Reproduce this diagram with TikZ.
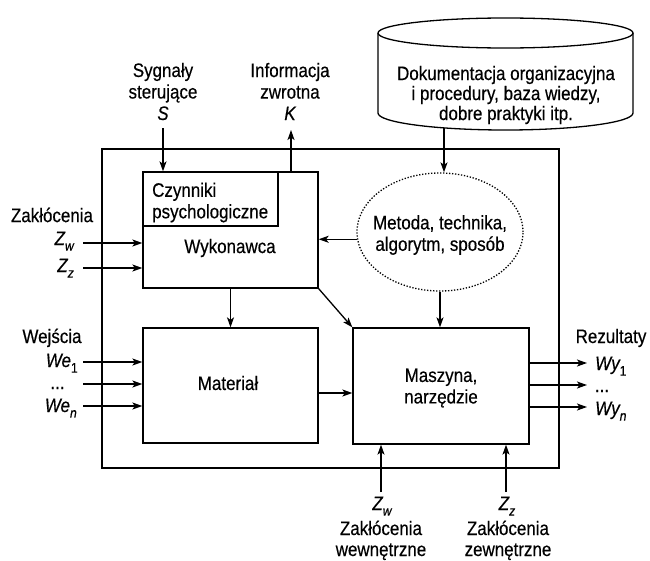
\documentclass[tikz,border=0pt]{standalone}
\usepackage{fontspec}
\setmainfont{Liberation Sans}[FakeStretch=0.87,FakeBold=0.4]
\usetikzlibrary{arrows.meta,shapes.geometric}
% lowered index for the symbols Z, We, Wy
\newcommand{\lowidx}[1]{\raisebox{-0.55ex}{\fontsize{14}{14}\selectfont #1}}
\begin{document}
\begin{tikzpicture}[x=1pt,y=-1pt,
  font=\fontsize{19.5}{21.5}\selectfont,
  every node/.style={inner sep=0pt},
  txt/.style={align=center},
  block/.style={draw, line width=1.3pt, inner sep=0pt},
  link/.style={line width=1.3pt, -{Stealth[length=10pt,width=7pt,inset=2.5pt]}},
  ]
\fill[white] (0,0) rectangle (650,560);
\useasboundingbox (0,0) rectangle (650,560);

% system boundary
\node[block, minimum width=457pt, minimum height=319pt] (frame) at (330.5,308.5) {};

% knowledge base (cylinder)
\draw[line width=1.3pt, fill=white] (378,33) -- (378,113)
  arc[start angle=180, end angle=0, x radius=127.5, y radius=17] -- (633,33);
\draw[line width=1.3pt] (505.5,33) ellipse [x radius=127.5, y radius=15];
\node[txt, font=\fontsize{19.5}{20}\selectfont] (doc) at (506,95)
  {Dokumentacja organizacyjna\\i procedury, baza wiedzy,\\dobre praktyki itp.};
\coordinate (docb) at (444,128);

% blocks
\node[block, minimum width=175pt, minimum height=116pt] (wyk) at (230.5,230) {};
\node[block, minimum width=135pt, minimum height=54pt] (czyn) at (210.5,199) {};
\node[txt, anchor=west, align=left] (czyntxt) at (152,202.5) {Czynniki\\psychologiczne};
\node (wyktxt) at (230,248) {Wykonawca};

\node[block, minimum width=175pt, minimum height=115pt] (mat) at (230.5,385.5) {};
\node (mattxt) at (228,383) {Materiał};

\node[block, minimum width=176pt, minimum height=116pt] (masz) at (441,386) {};
\node[txt] (maszt) at (441,388) {Maszyna,\\narzędzie};

\node[draw, ellipse, line width=1.3pt, dash pattern=on 1.3pt off 1.7pt,
      minimum width=166pt, minimum height=118pt] (met) at (440,232) {};
\node[txt] (mettxt) at (440,235) {Metoda, technika,\\algorytm, sposób};

% control signals and feedback
\node[txt] (sig) at (163,91.5) {Sygnały\\sterujące\\{\itshape S}};
\node[txt] (inf) at (290,91.5) {Informacja\\zwrotna\\{\itshape K}};
\coordinate (sb) at (163,128);
\coordinate (kt) at (291,130);

% disturbances (left)
\node (zak) at (52,215) {Zakłócenia};
\node[anchor=base east] (zwl) at (74,245) {\itshape Z\lowidx{w}};
\node[anchor=base east] (zzl) at (74,272) {\itshape Z\lowidx{z}};
\coordinate (in1) at (83,243);
\coordinate (in2) at (83,268);

% inputs
\node[anchor=base] (wej) at (52,343) {Wejścia};
\node[anchor=base east] (we1l) at (78,367) {{\itshape We}\lowidx{1}};
\node[anchor=base] (wedl) at (57.5,389) {...};
\node[anchor=base east] (wenl) at (77,412) {\itshape We\lowidx{n}};
\coordinate (we1) at (83,362);
\coordinate (wed) at (83,384);
\coordinate (wen) at (83,406);

% results
\node[anchor=base] (rez) at (611,343) {Rezultaty};
\node[anchor=base west] (wy1l) at (595,370) {{\itshape Wy}\lowidx{1}};
\node[anchor=base] (wydl) at (602,392) {...};
\node[anchor=base west] (wynl) at (595,415) {\itshape Wy\lowidx{n}};
\coordinate (wy1) at (587,363);
\coordinate (wyd) at (587,385);
\coordinate (wyn) at (587,407);

% disturbances (bottom)
\node[anchor=base] (zwb_l) at (382,510) {\itshape Z\lowidx{w}};
\node[anchor=base] (zakw1) at (381,535) {Zakłócenia};
\node[anchor=base] (zakw2) at (381,556) {wewnętrzne};
\node[anchor=base] (zzb_l) at (507,510) {\itshape Z\lowidx{z}};
\node[anchor=base] (zakz1) at (508,535) {Zakłócenia};
\node[anchor=base] (zakz2) at (508,556) {zewnętrzne};
\coordinate (zwb) at (381,492);
\coordinate (zzb) at (506,492);

% connectors
\draw[link] (docb) -- (docb |- met.north);
\draw[link] (met.south) -- (met.south |- masz.north);
\draw[link] (met.185) -- (met.185 -| wyk.east);
\draw[link] (sb) -- (sb |- czyn.north);
\draw[link] (kt |- wyk.north) -- (kt);
\draw[link] (wyk.south) -- (mat.north);
\draw[link] (wyk.south east) -- (masz.north west);
\draw[link] ([yshift=-7.5pt]mat.east) -- ([yshift=-7.5pt]mat.east -| masz.west);
\draw[link] (in1) -- (in1 -| wyk.west);
\draw[link] (in2) -- (in2 -| wyk.west);
\draw[link] (we1) -- (we1 -| mat.west);
\draw[link] (wed) -- (wed -| mat.west);
\draw[link] (wen) -- (wen -| mat.west);
\draw[link] (wy1 -| masz.east) -- (wy1);
\draw[link] (wyd -| masz.east) -- (wyd);
\draw[link] (wyn -| masz.east) -- (wyn);
\draw[link] (zwb) -- (zwb |- masz.south);
\draw[link] (zzb) -- (zzb |- masz.south);
\end{tikzpicture}
\end{document}
